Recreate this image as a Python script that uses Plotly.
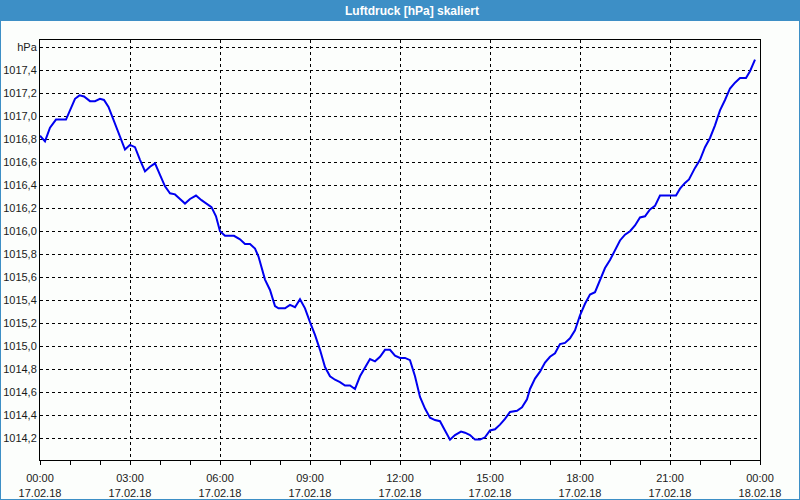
import pandas as pd
import plotly.graph_objects as go

# minutes after 17.02.18 00:00
minutes = [0, 10, 20, 32, 52, 61, 70, 79, 88, 100, 110, 120, 128, 137, 147, 159, 170, 180, 190, 200,
           210, 220, 230, 240, 250, 260, 270, 280, 290, 300, 312, 323, 333, 343, 352, 360, 370, 388, 400, 410,
           420, 430, 437, 443, 450, 460, 470, 477, 490, 500, 510, 520, 530, 540, 550, 560, 570, 580, 590, 600,
           610, 620, 630, 640, 650, 660, 670, 680, 690, 700, 710, 720, 730, 740, 750, 760, 770, 780, 790, 800,
           810, 820, 830, 842, 850, 860, 870, 880, 890, 900, 910, 920, 930, 940, 954, 964, 974, 980, 990, 1000,
           1010, 1020, 1030, 1040, 1050, 1060, 1070, 1080, 1090, 1100, 1110, 1120, 1130, 1140, 1150, 1160, 1170, 1180, 1190, 1200,
           1210, 1220, 1230, 1240, 1272, 1280, 1290, 1298, 1310, 1320, 1330, 1340, 1350, 1360, 1370, 1380, 1390, 1400, 1412, 1420,
           1430]
pressure = [1016.83, 1016.78, 1016.90, 1016.97, 1016.97, 1017.06, 1017.15, 1017.18, 1017.17, 1017.13, 1017.13, 1017.15, 1017.14, 1017.08, 1016.97, 1016.84, 1016.71, 1016.75, 1016.73, 1016.62,
            1016.52, 1016.56, 1016.59, 1016.49, 1016.39, 1016.33, 1016.32, 1016.28, 1016.24, 1016.28, 1016.31, 1016.27, 1016.24, 1016.21, 1016.13, 1016.00, 1015.96, 1015.96, 1015.93, 1015.89,
            1015.89, 1015.85, 1015.78, 1015.68, 1015.58, 1015.49, 1015.35, 1015.33, 1015.33, 1015.36, 1015.34, 1015.41, 1015.33, 1015.21, 1015.10, 1014.97, 1014.82, 1014.74, 1014.71, 1014.69,
            1014.66, 1014.66, 1014.63, 1014.74, 1014.82, 1014.89, 1014.87, 1014.91, 1014.97, 1014.97, 1014.92, 1014.90, 1014.90, 1014.88, 1014.74, 1014.56, 1014.46, 1014.38, 1014.36, 1014.35,
            1014.27, 1014.19, 1014.23, 1014.26, 1014.25, 1014.23, 1014.19, 1014.19, 1014.21, 1014.27, 1014.28, 1014.32, 1014.37, 1014.43, 1014.44, 1014.47, 1014.54, 1014.63, 1014.72, 1014.78,
            1014.86, 1014.91, 1014.94, 1015.02, 1015.03, 1015.07, 1015.14, 1015.27, 1015.37, 1015.45, 1015.47, 1015.58, 1015.68, 1015.75, 1015.84, 1015.92, 1015.97, 1016.00, 1016.05, 1016.12,
            1016.13, 1016.19, 1016.22, 1016.31, 1016.31, 1016.37, 1016.42, 1016.45, 1016.55, 1016.62, 1016.73, 1016.81, 1016.92, 1017.05, 1017.14, 1017.24, 1017.29, 1017.33, 1017.33, 1017.39,
            1017.49]

x_tick_times = ["2018-02-17 00:00", "2018-02-17 03:00", "2018-02-17 06:00", "2018-02-17 09:00",
                "2018-02-17 12:00", "2018-02-17 15:00", "2018-02-17 18:00", "2018-02-17 21:00",
                "2018-02-18 00:00"]
x_tick_labels = ["00:00<br>17.02.18", "03:00<br>17.02.18", "06:00<br>17.02.18", "09:00<br>17.02.18",
                 "12:00<br>17.02.18", "15:00<br>17.02.18", "18:00<br>17.02.18", "21:00<br>17.02.18",
                 "00:00<br>18.02.18"]
y_tick_values = [1014.2, 1014.4, 1014.6, 1014.8, 1015.0, 1015.2, 1015.4, 1015.6, 1015.8,
                 1016.0, 1016.2, 1016.4, 1016.6, 1016.8, 1017.0, 1017.2, 1017.4, 1017.6]
y_tick_labels = ["1014,2", "1014,4", "1014,6", "1014,8", "1015,0", "1015,2", "1015,4", "1015,6", "1015,8",
                 "1016,0", "1016,2", "1016,4", "1016,6", "1016,8", "1017,0", "1017,2", "1017,4", "hPa"]
title_text = "Luftdruck [hPa] skaliert"

start = pd.Timestamp("2018-02-17 00:00")
times = [start + pd.Timedelta(minutes=m) for m in minutes]

W, H = 800, 500
ML, MR, MT, MB = 40, 40, 40, 40
PW, PH = W - ML - MR, H - MT - MB
def px(x):
    return (x - ML) / PW
def py(y):
    return 1 - (y - MT) / PH

BLUE = "#3d8fc6"
BG = "#fcfefc"
FONT = "Liberation Sans"

fig = go.Figure()
fig.add_trace(go.Scatter(x=times, y=pressure, mode="lines",
                         line=dict(color="#0000f0", width=2), hoverinfo="skip"))

fig.update_layout(
    width=W, height=H,
    margin=dict(l=ML, r=MR, t=MT, b=MB),
    paper_bgcolor=BG, plot_bgcolor=BG,
    showlegend=False,
    font=dict(family=FONT, size=11, color="#1a1a1a"),
    xaxis=dict(
        type="date",
        range=[x_tick_times[0], x_tick_times[-1]],
        tickmode="array", tickvals=x_tick_times, ticktext=x_tick_labels,
        showgrid=True, gridcolor="#000000", gridwidth=1, griddash="3px,3px",
        showline=True, mirror=True, linecolor="#000000", linewidth=1,
        ticks="outside", ticklen=4, tickcolor="#000000", tickwidth=1,
        ticklabelstandoff=4, automargin=False,
        minor=dict(ticks="outside", dtick=3600000, ticklen=4, tickcolor="#000000", showgrid=False),
        zeroline=False, fixedrange=True,
    ),
    yaxis=dict(
        range=[1014.013, 1017.661],
        tickmode="array", tickvals=y_tick_values, ticktext=y_tick_labels,
        showgrid=True, gridcolor="#000000", gridwidth=1, griddash="3px,3px",
        showline=True, mirror=True, linecolor="#000000", linewidth=1,
        ticks="", zeroline=False, fixedrange=True, automargin=False,
    ),
    shapes=[
        dict(type="rect", xref="paper", yref="paper", layer="below",
             x0=px(0), x1=px(W), y0=py(21), y1=py(0),
             fillcolor=BLUE, line=dict(width=0)),
        dict(type="rect", xref="paper", yref="paper",
             x0=px(0), x1=px(W), y0=py(H), y1=py(0),
             fillcolor="rgba(0,0,0,0)", line=dict(color=BLUE, width=2)),
    ],
    annotations=[
        dict(text="<b>" + title_text + "</b>", xref="paper", yref="paper",
             x=px(412), y=py(10.5), xanchor="center", yanchor="middle",
             showarrow=False, font=dict(family=FONT, size=12, color="#ffffff")),
    ],
)

fig.write_html("out.html")
